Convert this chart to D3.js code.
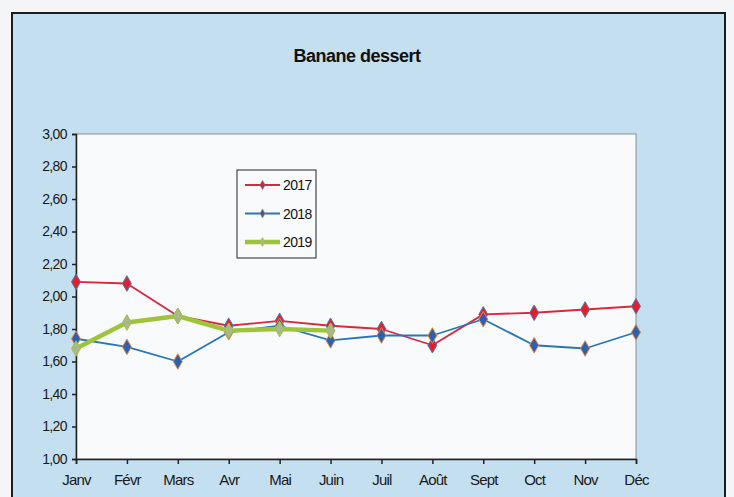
<!DOCTYPE html>
<html>
<head>
<meta charset="utf-8">
<script src="https://cdn.jsdelivr.net/npm/d3@7"></script>
<style>
  html, body { margin: 0; padding: 0; background: #f4f6f8; }
  svg { display: block; }
  .tick text { font-family: "Liberation Sans", Arial, sans-serif; fill: #1a1a1a; }
  .y .tick text { font-size: 14px; letter-spacing: -0.6px; }
  .x .tick text { font-size: 15px; letter-spacing: -0.8px; }
</style>
</head>
<body>
<div id="chart"></div>
<script>
const months = ["Janv", "Févr", "Mars", "Avr", "Mai", "Juin", "Juil", "Août", "Sept", "Oct", "Nov", "Déc"];
const values2017 = [2.09, 2.08, 1.88, 1.82, 1.85, 1.82, 1.80, 1.70, 1.89, 1.90, 1.92, 1.94];
const values2018 = [1.74, 1.69, 1.60, 1.78, 1.82, 1.73, 1.76, 1.76, 1.86, 1.70, 1.68, 1.78];
const values2019 = [1.68, 1.84, 1.88, 1.79, 1.80, 1.79];
const yTicks = [1.0, 1.2, 1.4, 1.6, 1.8, 2.0, 2.2, 2.4, 2.6, 2.8, 3.0];

const width = 734, height = 497;
const plot = { left: 76, right: 636, top: 134, bottom: 459 };

const svg = d3.select("#chart").append("svg")
  .attr("width", width)
  .attr("height", height);

// page behind the chart
svg.append("rect").attr("width", width).attr("height", height).attr("fill", "#f3f5f7");

// chart area
svg.append("rect")
  .attr("x", 12).attr("y", 13)
  .attr("width", 713).attr("height", 500)
  .attr("fill", "#c4dfef")
  .attr("stroke", "#1c1c1c")
  .attr("stroke-width", 2);

svg.append("text")
  .attr("x", 357).attr("y", 62)
  .attr("text-anchor", "middle")
  .attr("font-family", "Liberation Sans, Arial, sans-serif")
  .attr("font-weight", "bold")
  .attr("font-size", 18)
  .attr("letter-spacing", -0.5)
  .attr("fill", "#111")
  .text("Banane dessert");

const x = d3.scalePoint().domain(months).range([plot.left, plot.right]);
const y = d3.scaleLinear().domain([1, 3]).range([plot.bottom, plot.top]);

// plot area
svg.append("rect")
  .attr("x", plot.left).attr("y", plot.top)
  .attr("width", plot.right - plot.left).attr("height", plot.bottom - plot.top)
  .attr("fill", "#f9fafc")
  .attr("stroke", "#8a8f96")
  .attr("stroke-width", 1);

const yAxis = svg.append("g")
  .attr("class", "y")
  .attr("transform", `translate(${plot.left},0)`)
  .call(d3.axisLeft(y).tickValues(yTicks).tickSize(4).tickPadding(5)
    .tickFormat(d => d3.format(".2f")(d).replace(".", ",")));
yAxis.selectAll("path, line").attr("stroke", "#222").attr("stroke-width", 1.5);

const xAxis = svg.append("g")
  .attr("class", "x")
  .attr("transform", `translate(0,${plot.bottom})`)
  .call(d3.axisBottom(x).tickSize(5).tickPadding(10));
xAxis.selectAll("path, line").attr("stroke", "#222").attr("stroke-width", 1.5);

const series = [
  { name: "2017", values: values2017, line: "#d8283c", width: 1.8, fill: "#e0202e", edge: "#4a78b8" },
  { name: "2018", values: values2018, line: "#2876b8", width: 1.8, fill: "#2a62b0", edge: "#e8863a" },
  { name: "2019", values: values2019, line: "#9ec43a", width: 4.5, fill: "#a8b88c", edge: "#9ec43a" }
];

const diamond = d3.symbol().type(d3.symbolDiamond).size(70);

series.forEach(s => {
  const line = d3.line().x((d, i) => x(months[i])).y(d => y(d));
  svg.append("path")
    .datum(s.values)
    .attr("d", line)
    .attr("fill", "none")
    .attr("stroke", s.line)
    .attr("stroke-width", s.width)
    .attr("stroke-linejoin", "round");
  svg.append("g").selectAll("path")
    .data(s.values)
    .join("path")
    .attr("d", diamond)
    .attr("transform", (d, i) => `translate(${x(months[i])},${y(d)})`)
    .attr("fill", s.fill)
    .attr("stroke", s.edge)
    .attr("stroke-width", 1);
});

// legend
const legend = svg.append("g").attr("transform", "translate(237,170)");
legend.append("rect")
  .attr("width", 79).attr("height", 88)
  .attr("fill", "#f9fafc")
  .attr("stroke", "#222")
  .attr("stroke-width", 1);
series.forEach((s, i) => {
  const ly = 15 + i * 28.5;
  legend.append("line")
    .attr("x1", 8).attr("x2", 43).attr("y1", ly).attr("y2", ly)
    .attr("stroke", s.line).attr("stroke-width", s.width);
  legend.append("path")
    .attr("d", d3.symbol().type(d3.symbolDiamond).size(24))
    .attr("transform", `translate(25.5,${ly})`)
    .attr("fill", s.fill).attr("stroke", s.edge).attr("stroke-width", 0.6);
  legend.append("text")
    .attr("x", 46).attr("y", ly + 5)
    .attr("font-family", "Liberation Sans, Arial, sans-serif")
    .attr("font-size", 14)
    .attr("letter-spacing", -0.6)
    .attr("fill", "#111")
    .text(s.name);
});
</script>
</body>
</html>
